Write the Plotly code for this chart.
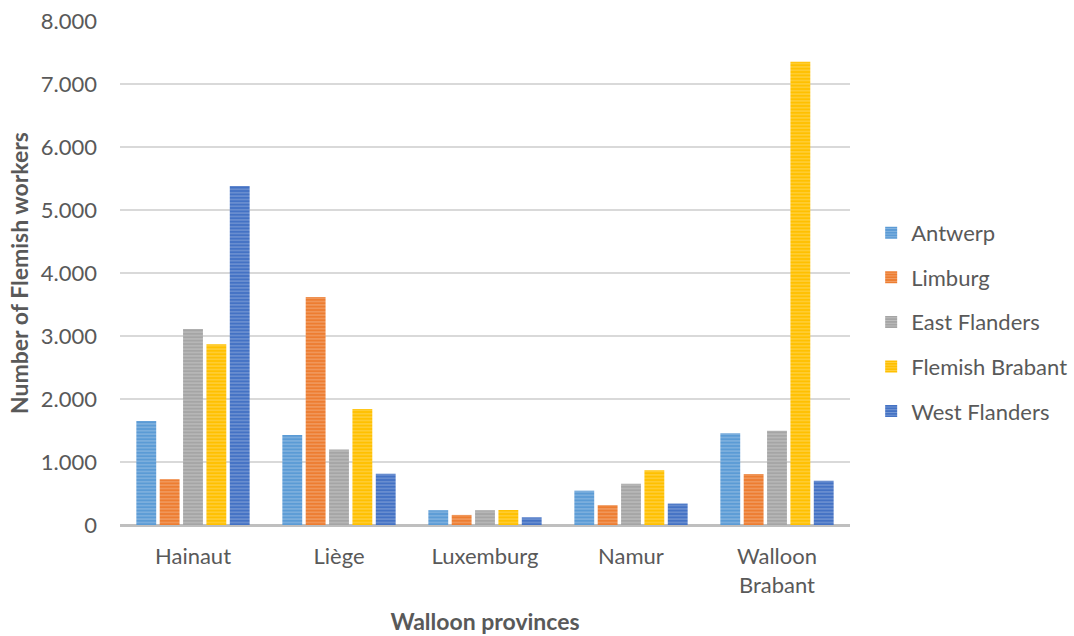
import plotly.graph_objects as go

provinces = ["Hainaut", "Liège", "Luxemburg", "Namur", "Walloon<br>Brabant"]
series_names = ["Antwerp", "Limburg", "East Flanders", "Flemish Brabant", "West Flanders"]
antwerp = [1650, 1430, 235, 545, 1455]
limburg = [725, 3620, 160, 315, 810]
east_flanders = [3110, 1200, 235, 655, 1495]
flemish_brabant = [2870, 1840, 238, 868, 7355]
west_flanders = [5380, 815, 122, 340, 703]
colors = ["#5B9BD5", "#ED7D31", "#A5A5A5", "#FFC000", "#4472C4"]
y_ticks = [0, 1000, 2000, 3000, 4000, 5000, 6000, 7000, 8000]

values = [antwerp, limburg, east_flanders, flemish_brabant, west_flanders]

fig = go.Figure()
for name, vals, col in zip(series_names, values, colors):
    fig.add_trace(go.Bar(
        x=provinces, y=vals, name=name, legendgroup=name,
        marker=dict(color=col, line=dict(width=0),
                    pattern=dict(shape="-", size=3.4, solidity=0.35,
                                 fgcolor="rgba(255,255,255,0.55)", fillmode="overlay")),
    ))

font_family = "Lato, 'Open Sans', sans-serif"
fig.update_layout(
    width=1074, height=636,
    margin=dict(l=120, r=224, t=21, b=111, autoexpand=False),
    paper_bgcolor="white", plot_bgcolor="white",
    barmode="group", bargap=0.2, bargroupgap=0.15,
    separators=",.",
    font=dict(family=font_family, size=22, color="#595959"),
    legend=dict(x=1.029, y=0.403, xanchor="left", yanchor="middle",
                font=dict(size=22, color="#595959"), tracegroupgap=13,
                itemsizing="constant", itemwidth=30),
    xaxis=dict(title=dict(text="<b>Walloon provinces</b>", font=dict(size=23, color="#595959"), standoff=17),
               showgrid=False, showline=False, ticks="", tickfont=dict(size=22), ticklabelstandoff=16),
    yaxis=dict(title=dict(text="<b>Number of Flemish workers</b>", font=dict(size=23, color="#595959"), standoff=5),
               range=[0, 8000], tickvals=y_ticks, tickformat=",d",
               showgrid=True, gridcolor="#D9D9D9", gridwidth=1.5,
               zeroline=True, zerolinecolor="#BFBFBF", zerolinewidth=3,
               showline=False, ticks="", tickfont=dict(size=22), ticklabelstandoff=22),
)

fig.write_html("out.html")
